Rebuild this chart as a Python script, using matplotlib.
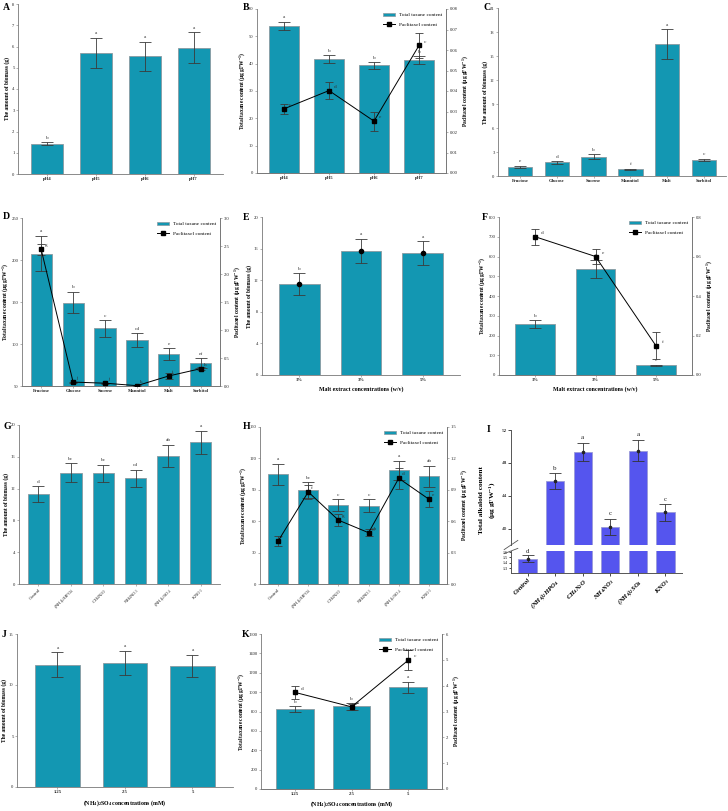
import matplotlib

matplotlib.use("Agg")
import matplotlib.pyplot as plt
from matplotlib.lines import Line2D
from matplotlib.patches import Patch
import numpy as np

plt.rcParams["font.family"] = ["Liberation Serif", "DejaVu Serif"]
plt.rcParams["mathtext.fontset"] = "custom"
plt.rcParams["mathtext.rm"] = "Liberation Serif"
plt.rcParams["mathtext.default"] = "regular"

TEAL = "#1397b2"
EDGE = "#8a9aa0"
SPINE = "#777777"
ERR = "#3a3a3a"

# ---- data ----------------------------------------------------------------
ph_labels = ["pH4", "pH5", "pH6", "pH7"]
a_biomass = [1.43, 5.70, 5.54, 5.95]
a_err = [0.06, 0.70, 0.69, 0.72]
a_letters = ["b", "a", "a", "a"]

b_taxane = [53.8, 41.7, 39.4, 41.3]
b_taxane_err = [1.5, 1.4, 1.2, 1.4]
b_taxane_letters = ["a", "b", "b", "b"]
b_pac = [0.0313, 0.0402, 0.0253, 0.0622]
b_pac_err = [0.0026, 0.0040, 0.0047, 0.0060]
b_pac_letters = ["c", "d", "e", "c"]

sugar_labels = ["Fructose", "Glucose", "Sucrose", "Mannitol", "Malt", "Sorbitol"]
c_biomass = [1.11, 1.69, 2.43, 0.82, 16.47, 2.02]
c_err = [0.15, 0.17, 0.3, 0.08, 1.9, 0.16]
c_letters = ["e", "d", "b", "f", "a", "c"]

d_taxane = [207.6, 149.4, 118.5, 105.0, 88.0, 77.0]
d_taxane_err = [21, 13, 10, 8, 7, 6]
d_taxane_letters = ["a", "b", "c", "cd", "e", "ef"]
d_pac = [2.44, 0.07, 0.05, 0.006, 0.18, 0.31]
d_pac_err = [0.1, 0.01, 0.01, 0.005, 0.05, 0.03]
d_pac_letters = ["g", "j", "j", "k", "i", "h"]

malt_labels = ["1%", "3%", "5%"]
e_biomass = [11.5, 15.7, 15.45]
e_err = [1.35, 1.55, 1.5]
e_letters = ["b", "a", "a"]

f_taxane = [256, 537, 48.5]
f_taxane_err = [20, 47, 3]
f_taxane_letters = ["b", "a", "c"]
f_pac = [0.70, 0.60, 0.149]
f_pac_err = [0.04, 0.04, 0.07]
f_pac_letters = ["d", "e", "f"]

nitro_labels = ["Control", "(NH$_4$)$_2$HPO$_4$", "CH$_4$N$_2$O",
                "NH$_4$NO$_3$", "(NH$_4$)$_2$SO$_4$", "KNO$_3$"]
g_biomass = [11.3, 14.0, 13.9, 13.3, 16.1, 17.8]
g_err = [1.0, 1.2, 1.1, 1.1, 1.4, 1.5]
g_letters = ["d", "bc", "bc", "cd", "ab", "a"]

h_taxane = [105, 90, 75.3, 75, 108.8, 103]
h_taxane_err = [10, 7.5, 6, 6, 9, 10]
h_taxane_letters = ["a", "bc", "c", "c", "a", "ab"]
h_pac = [0.41, 0.88, 0.61, 0.49, 1.01, 0.81]
h_pac_err = [0.045, 0.065, 0.06, 0.035, 0.1, 0.075]
h_pac_letters = ["i", "f", "g", "gh", "d", "e"]

i_alkaloid = [1.48, 45.8, 49.35, 40.24, 49.5, 41.96]
i_err = [0.065, 0.95, 1.1, 0.98, 1.3, 0.98]
i_letters = ["d", "b", "a", "c", "a", "c"]

conc_labels = ["1.25", "2.5", "5"]
j_biomass = [11.99, 12.18, 11.89]
j_err = [1.2, 1.2, 1.1]
j_letters = ["a", "a", "a"]

k_taxane = [822, 852, 1050]
k_taxane_err = [30, 37, 58]
k_taxane_letters = ["b", "b", "a"]
k_pac = [3.74, 3.18, 4.98]
k_pac_err = [0.245, 0.11, 0.39]
k_pac_letters = ["d", "e", "c"]

# ---- helpers -------------------------------------------------------------
W, H = 728, 811
fig = plt.figure(figsize=(W / 100, H / 100), dpi=100)


def px_axes(x0, y0, x1, y1):
    return fig.add_axes([x0 / W, 1 - y1 / H, (x1 - x0) / W, (y1 - y0) / H])


def style(ax, right=False):
    ax.spines["top"].set_visible(False)
    ax.spines["right"].set_visible(right)
    for s in ax.spines.values():
        s.set_color(SPINE)
        s.set_linewidth(0.6)
    ax.tick_params(labelsize=3.3, length=1.5, width=0.4, colors=SPINE,
                   labelcolor="#222222", pad=1)


BIOMASS = "The amount of biomass (g)"
TAXANE = "Total taxane content (μg gFW$^{-1}$)"
PAC = "Paclitaxel content (μg gFW$^{-1}$)"


def bars(ax, labels, vals, errs, letters, ylim, yticks, ylabel, xlabel=None,
         rot=0, dots=False, bottom=0, tickfs=4.2):
    x = np.arange(len(vals))
    ax.bar(x, np.array(vals) - bottom, 0.66, bottom=bottom, color=TEAL,
           edgecolor=EDGE, linewidth=0.6, zorder=2)
    ax.errorbar(x, vals, yerr=errs, fmt="none", ecolor=ERR, elinewidth=0.6,
                capsize=4, capthick=0.6, zorder=3)
    if dots:
        ax.plot(x, vals, "o", color="black", ms=3, zorder=4)
    span = ylim[1] - ylim[0]
    for xi, v, e, t in zip(x, vals, errs, letters):
        ax.text(xi, v + e + span * 0.015, t, ha="center", va="bottom",
                fontsize=3.8, color="#333333")
    ax.set_xlim(-0.6, len(vals) - 0.4)
    ax.set_ylim(*ylim)
    ax.set_yticks(yticks)
    ax.set_xticks(x)
    if rot:
        ax.set_xticklabels(labels, rotation=rot, ha="right",
                           rotation_mode="anchor", fontsize=3.4)
    else:
        ax.set_xticklabels(labels, fontsize=tickfs, fontweight="bold")
    ax.set_ylabel(ylabel, fontsize=4.0, fontweight="bold", labelpad=1.5)
    if xlabel:
        ax.set_xlabel(xlabel, fontsize=4.2, fontweight="bold", labelpad=3)
    style(ax)


def pac_line(ax, vals, errs, letters, ylim, yticks, fmt="{:.2f}"):
    tw = ax.twinx()
    x = np.arange(len(vals))
    tw.errorbar(x, vals, yerr=errs, fmt="s-", color="black", ms=3,
                lw=0.7, ecolor=ERR, elinewidth=0.6, capsize=3, capthick=0.6,
                zorder=5)
    span = ylim[1] - ylim[0]
    for xi, v, e, t in zip(x, vals, errs, letters):
        tw.text(xi + 0.1, v + span * 0.012, t, ha="left", va="bottom",
                fontsize=3.8, color="#333333")
    tw.set_ylim(*ylim)
    tw.set_yticks(yticks)
    tw.set_yticklabels([fmt.format(t) for t in yticks])
    tw.set_ylabel(PAC, fontsize=4.0, fontweight="bold", labelpad=2)
    style(tw, right=True)
    tw.spines["left"].set_visible(False)
    ax.spines["right"].set_visible(True)
    handles = [Patch(facecolor=TEAL, edgecolor=EDGE, lw=0.5),
               Line2D([0], [0], color="black", marker="s", ms=3, lw=0.7)]
    tw.legend(handles, ["Total taxane content", "Paclitaxel content"],
              loc="upper right", fontsize=3.8, frameon=False,
              handlelength=2.2, borderaxespad=0.3, labelspacing=0.9)
    return tw


def letter(x, y, t):
    fig.text(x / W, 1 - y / H, t, fontsize=7, fontweight="bold", va="top")


# ---- A -------------------------------------------------------------------
ax = px_axes(18, 4, 223, 174)
bars(ax, ph_labels, a_biomass, a_err, a_letters, (0, 8), range(0, 9), BIOMASS)
letter(3, 3, "A")

# ---- B -------------------------------------------------------------------
ax = px_axes(257, 9, 446, 173)
bars(ax, ph_labels, b_taxane, b_taxane_err, b_taxane_letters, (0, 60),
     range(0, 61, 10), TAXANE)
pac_line(ax, b_pac, b_pac_err, b_pac_letters, (0, 0.08),
         np.arange(0, 0.081, 0.01))
letter(243, 3, "B")

# ---- C -------------------------------------------------------------------
ax = px_axes(498, 8, 726, 176)
bars(ax, sugar_labels, c_biomass, c_err, c_letters, (0, 21), range(0, 22, 3),
     BIOMASS)
letter(483, 3, "C")

# ---- D -------------------------------------------------------------------
ax = px_axes(22, 218, 220, 386)
bars(ax, sugar_labels, d_taxane, d_taxane_err, d_taxane_letters, (50, 250),
     range(50, 251, 50), TAXANE, bottom=50)
pac_line(ax, d_pac, d_pac_err, d_pac_letters, (0, 3.0),
         np.arange(0, 3.01, 0.5), fmt="{:.1f}")
letter(3, 212, "D")

# ---- E -------------------------------------------------------------------
ax = px_axes(262, 217, 460, 375)
bars(ax, malt_labels, e_biomass, e_err, e_letters, (0, 20), range(0, 21, 4),
     BIOMASS, xlabel="Malt extract concentrations (w/v)", dots=True)
letter(243, 213, "E")

# ---- F -------------------------------------------------------------------
ax = px_axes(499, 217, 692, 375)
bars(ax, malt_labels, f_taxane, f_taxane_err, f_taxane_letters, (0, 800),
     range(0, 801, 100), TAXANE, xlabel="Malt extract concentrations (w/v)")
pac_line(ax, f_pac, f_pac_err, f_pac_letters, (0, 0.8),
         np.arange(0, 0.81, 0.2), fmt="{:.1f}")
letter(482, 213, "F")

# ---- G -------------------------------------------------------------------
ax = px_axes(19, 425, 220, 584)
bars(ax, nitro_labels, g_biomass, g_err, g_letters, (0, 20), range(0, 21, 4),
     BIOMASS, rot=45)
letter(3, 422, "G")

# ---- H -------------------------------------------------------------------
ax = px_axes(260, 427, 447, 584)
bars(ax, nitro_labels, h_taxane, h_taxane_err, h_taxane_letters, (0, 150),
     range(0, 151, 30), TAXANE, rot=45)
pac_line(ax, h_pac, h_pac_err, h_pac_letters, (0, 1.5),
         np.arange(0, 1.51, 0.3), fmt="{:.1f}")
letter(243, 422, "H")

# ---- I (broken axis) -----------------------------------------------------
PURPLE = "#5555ee"
up = px_axes(511, 430, 682, 545)
lo = px_axes(511, 551, 682, 573)
xi = np.arange(len(i_alkaloid))
for a in (up, lo):
    a.bar(xi, i_alkaloid, 0.66, color=PURPLE, edgecolor="#9a9ad8", lw=0.6,
          zorder=2)
    a.errorbar(xi, i_alkaloid, yerr=i_err, fmt="o", color="#222222", ms=1.6,
               ecolor="#333333", elinewidth=0.6, capsize=4, capthick=0.6,
               zorder=3)
    a.set_xlim(-0.6, len(xi) - 0.4)
    for s in ("top", "right"):
        a.spines[s].set_visible(False)
    for s in a.spines.values():
        s.set_color("#555555")
        s.set_linewidth(0.7)
    a.tick_params(labelsize=3.8, length=2, width=0.5, pad=1)
up.set_ylim(38, 52)
up.set_yticks([40, 44, 48, 52])
up.spines["bottom"].set_visible(False)
up.set_xticks([])
lo.set_ylim(1.21, 1.62)
lo.set_yticks([1.3, 1.4, 1.5, 1.6])
lo.tick_params(axis="y", labelsize=3.0, length=1.5)
lo.set_xticks(xi)
lo.set_xticklabels(nitro_labels, rotation=45, ha="right",
                   rotation_mode="anchor", fontsize=4.8, fontweight="bold",
                   fontstyle="italic")
for xx, v, e, t in zip(xi, i_alkaloid, i_err, i_letters):
    tgt = lo if v < 2 else up
    off = 0.02 if v < 2 else 0.3
    tgt.text(xx, v + e + off, t, ha="center", va="bottom", fontsize=5,
             color="#222222")
d = 0.02
up.plot([-d * 2, d * 2], [-d * 2, d * 2], transform=up.transAxes,
        color="#555555", lw=0.6, clip_on=False)
lo.plot([-d * 2, d * 2], [1 - d * 6, 1 + d * 6], transform=lo.transAxes,
        color="#555555", lw=0.6, clip_on=False)
fig.text(488 / W, 1 - 500 / H, "Total alkaloid content\n(μg gFW$^{-1}$)",
         rotation=90, ha="center", va="center", fontsize=5.3,
         fontweight="bold", linespacing=1.35)
letter(487, 425, "I")

# ---- J -------------------------------------------------------------------
so4 = "(NH$_4$)$_2$SO$_4$ concentrations (mM)"
ax = px_axes(17, 634, 233, 787)
bars(ax, conc_labels, j_biomass, j_err, j_letters, (0, 15), range(0, 16, 5),
     BIOMASS, xlabel=so4, tickfs=5)
letter(2, 630, "J")

# ---- K -------------------------------------------------------------------
ax = px_axes(261, 634, 442, 789)
bars(ax, conc_labels, k_taxane, k_taxane_err, k_taxane_letters, (0, 1600),
     range(0, 1601, 200), TAXANE, xlabel=so4)
ax.xaxis.labelpad = 2
pac_line(ax, k_pac, k_pac_err, k_pac_letters, (0, 6), range(0, 7),
         fmt="{:d}")
letter(242, 630, "K")

fig.savefig("out.png", dpi=100)
